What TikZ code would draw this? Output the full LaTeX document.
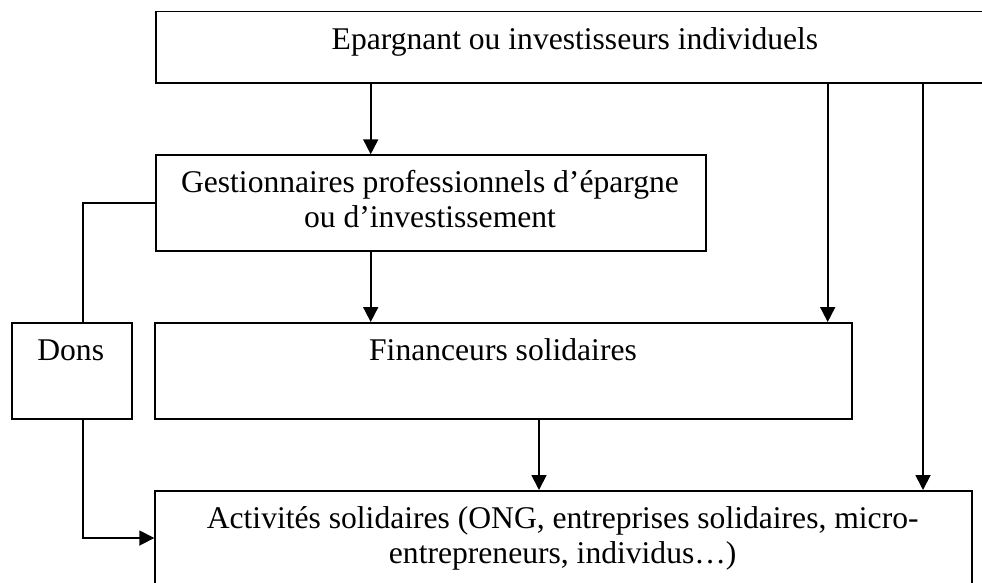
\documentclass[tikz,border=0pt]{standalone}
\usepackage{fontspec}
\setmainfont{Liberation Serif}
\usetikzlibrary{arrows.meta}
\begin{document}
\begin{tikzpicture}[x=1pt,y=-1pt,
  box/.style={draw, line width=1.8pt, rectangle, inner sep=0pt, anchor=north west},
  lbl/.style={font=\fontsize{31.6}{34.5}\selectfont, align=center, inner sep=0pt, anchor=base},
  conn/.style={line width=1.8pt},
  arr/.style={conn, -{Triangle[length=15pt,width=15pt]}}]
\useasboundingbox (0,0) rectangle (982,582);
\clip (0,0) rectangle (982,582);
% boxes
\node[box, minimum width=840.3pt, minimum height=71.2pt] (ep) at (154.7,10.5) {};
\node[box, minimum width=550.3pt, minimum height=95.7pt] (gest) at (154.7,154.3) {};
\node[box, minimum width=696.7pt, minimum height=96pt] (fin) at (154.3,322) {};
\node[box, minimum width=120pt, minimum height=96pt] (dons) at (10.7,322) {};
\node[box, minimum width=816.7pt, minimum height=120pt] (act) at (154.3,490) {};
% labels
\node[lbl] (tep) at (575,49.3) {Epargnant ou investisseurs individuels};
\node[lbl] (tgest) at (430,227) {Gestionnaires professionnels d’épargne\\ou d’investissement};
\node[lbl] (tdons) at (70.7,360.7) {Dons};
\node[lbl] (tfin) at (503,360.7) {Financeurs solidaires};
\node[lbl] (tact) at (562.7,563) {Activités solidaires (ONG, entreprises solidaires, micro-\\entrepreneurs, individus…)};
% helper coordinates
\coordinate (xa) at (370.7,0);
\coordinate (xb) at (827.7,0);
\coordinate (xc) at (923,0);
\coordinate (xd) at (539,0);
\coordinate (xe) at (82.7,0);
\coordinate (ya) at (0,538);
% connectors
\draw[arr] (xa |- ep.south) -- (xa |- gest.north);
\draw[arr] (xb |- ep.south) -- (xb |- fin.north);
\draw[arr] (xc |- ep.south) -- (xc |- act.north);
\draw[arr] (xa |- gest.south) -- (xa |- fin.north);
\draw[arr] (xd |- fin.south) -- (xd |- act.north);
\draw[conn] (gest.west) -| (xe |- dons.north);
\draw[arr] (xe |- dons.south) |- (act.west |- ya);
\end{tikzpicture}
\end{document}
